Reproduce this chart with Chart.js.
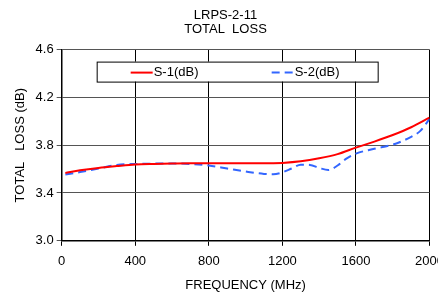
<!DOCTYPE html>
<html>
<head>
<meta charset="utf-8">
<script src="https://cdn.jsdelivr.net/npm/chart.js@4"></script>
<style>
  html, body { margin: 0; padding: 0; background: #fff; overflow: hidden; }
  #wrap { width: 438px; height: 293px; overflow: hidden; }
</style>
</head>
<body>
<div id="wrap"><canvas id="chart" width="452" height="293"></canvas></div>
<script>
const titleLines = ["LRPS-2-11", "TOTAL  LOSS"];
const seriesNames = ["S-1(dB)", "S-2(dB)"];

const freqS1 = [20, 100, 200, 300, 400, 500, 600, 700, 800, 900, 1000, 1100, 1200, 1300, 1400, 1500, 1600, 1700, 1800, 1900, 2000];
const lossS1 = [3.568, 3.59, 3.61, 3.625, 3.638, 3.643, 3.646, 3.648, 3.648, 3.648, 3.648, 3.648, 3.652, 3.665, 3.69, 3.725, 3.78, 3.83, 3.885, 3.95, 4.03];

const freqS2 = [20, 100, 200, 300, 400, 500, 600, 700, 800, 900, 1000, 1100, 1150, 1200, 1250, 1300, 1350, 1400, 1450, 1500, 1550, 1600, 1700, 1800, 1900, 1950, 2000];
const lossS2 = [3.554, 3.575, 3.605, 3.635, 3.643, 3.646, 3.647, 3.643, 3.63, 3.605, 3.58, 3.56, 3.557, 3.573, 3.605, 3.637, 3.635, 3.61, 3.592, 3.63, 3.69, 3.73, 3.77, 3.805, 3.87, 3.92, 4.02];

const xTicks = [0, 400, 800, 1200, 1600, 2000];
const yTicks = [3.0, 3.4, 3.8, 4.2, 4.6];

const font = "Liberation Sans, Arial, sans-serif";

// legend box drawn inside the plot area
const boxLegend = {
  id: "boxLegend",
  afterDraw(chart) {
    const ctx = chart.ctx;
    const a = chart.chartArea;
    const x0 = a.left + 35, x1 = a.left + 316, y0 = a.top + 12, y1 = a.top + 32;
    ctx.save();
    ctx.fillStyle = "#fff";
    ctx.fillRect(x0, y0, x1 - x0, y1 - y0);
    ctx.strokeStyle = "#000";
    ctx.lineWidth = 1;
    ctx.strokeRect(x0 + 0.5, y0 + 0.5, x1 - x0, y1 - y0);
    const starts = [a.left + 69, a.left + 210];
    const ym = (y0 + y1) / 2 + 1;
    chart.data.datasets.forEach((ds, i) => {
      ctx.strokeStyle = ds.borderColor;
      ctx.lineWidth = 2;
      ctx.setLineDash(ds.borderDash || []);
      ctx.beginPath();
      ctx.moveTo(starts[i], ym);
      ctx.lineTo(starts[i] + 22, ym);
      ctx.stroke();
      ctx.setLineDash([]);
      ctx.fillStyle = "#000";
      ctx.font = "13px " + font;
      ctx.textBaseline = "middle";
      ctx.fillText(ds.label, starts[i] + 23, ym);
    });
    ctx.restore();
  }
};

new Chart(document.getElementById("chart"), {
  type: "line",
  data: {
    datasets: [
      {
        label: seriesNames[0],
        data: freqS1.map((f, i) => ({ x: f, y: lossS1[i] })),
        borderColor: "#ff0000",
        borderWidth: 2,
        pointRadius: 0,
        cubicInterpolationMode: "monotone",
        fill: false
      },
      {
        label: seriesNames[1],
        data: freqS2.map((f, i) => ({ x: f, y: lossS2[i] })),
        borderColor: "#3366ff",
        borderWidth: 2,
        borderDash: [8, 5],
        pointRadius: 0,
        cubicInterpolationMode: "monotone",
        fill: false
      }
    ]
  },
  options: {
    responsive: false,
    animation: false,
    layout: { padding: { left: 13, right: 14, top: 4, bottom: 0 } },
    plugins: {
      legend: { display: false },
      tooltip: { enabled: false },
      title: {
        display: true,
        text: titleLines,
        color: "#000",
        font: { family: font, size: 13, weight: "normal", lineHeight: 1.1 },
        padding: { top: 4, bottom: 13 }
      }
    },
    scales: {
      x: {
        type: "linear",
        min: 0,
        max: 2000,
        afterBuildTicks: s => { s.ticks = xTicks.map(v => ({ value: v })); },
        ticks: { color: "#000", font: { family: font, size: 13 }, maxRotation: 0, padding: 8, callback: v => String(v) },
        grid: { color: "#000", lineWidth: 1, tickLength: 5, drawTicks: true },
        border: { color: "#000", width: 1.5 },
        title: { display: true, text: "FREQUENCY (MHz)", color: "#000", font: { family: font, size: 13 }, padding: { top: 0, bottom: 0 } }
      },
      y: {
        min: 3.0,
        max: 4.6,
        afterBuildTicks: s => { s.ticks = yTicks.map(v => ({ value: v })); },
        ticks: { color: "#000", font: { family: font, size: 13 }, padding: 3, callback: v => v.toFixed(1) },
        grid: { color: "#555", lineWidth: 1, tickLength: 5 },
        border: { color: "#000", width: 1.5 },
        title: { display: true, text: "TOTAL   LOSS (dB)", color: "#000", font: { family: font, size: 13 }, padding: { top: 0, bottom: 4 } }
      }
    }
  },
  plugins: [boxLegend]
});
</script>
</body>
</html>
